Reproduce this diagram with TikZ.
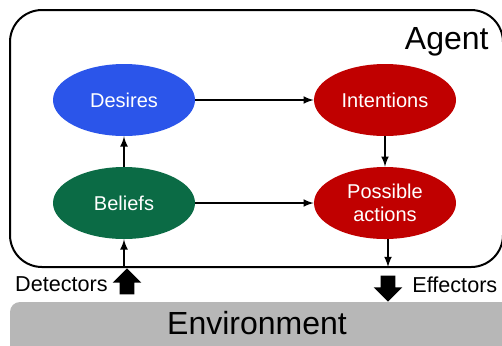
\documentclass[tikz,border=0pt]{standalone}
\usepackage{fontspec}
\setmainfont{Liberation Sans}
\usetikzlibrary{shapes.geometric,shapes.arrows}
\definecolor{desblue}{HTML}{2B55EA}
\definecolor{belgreen}{HTML}{0B6B45}
\definecolor{intred}{HTML}{C00000}
\definecolor{envgray}{HTML}{B7B7B7}
\begin{document}
\begin{tikzpicture}[x=0.5pt,y=-0.5pt,>=latex,
  state/.style={ellipse,minimum width=71pt,minimum height=36pt,inner sep=0pt,text=white,align=center,font=\fontsize{10}{11.5}\selectfont},
  flow/.style={->,line width=0.75pt},
  bigarrow/.style={single arrow,fill=black,minimum width=0pt,minimum height=13pt,single arrow head extend=3.5pt,inner sep=3.5pt},
  lbl/.style={font=\fontsize{10.8}{12}\selectfont,inner sep=0pt}]
  \useasboundingbox (0,0) rectangle (502,345);
  \clip (0,0) rectangle (502,345);
  % environment and agent
  \fill[envgray,rounded corners=5pt] (10,302) rectangle (520,360);
  \node[font=\fontsize{16}{18}\selectfont] (env) at (257,323) {Environment};
  \draw[line width=1pt,rounded corners=16pt] (10,10) rectangle (503,267);
  \node[font=\fontsize{16}{18}\selectfont,anchor=east,inner sep=0pt] (agent) at (489,42) {Agent};
  % states
  \node[state,fill=desblue] (D) at (124,100) {Desires};
  \node[state,fill=intred] (I) at (385,100) {Intentions};
  \node[state,fill=belgreen] (B) at (124,203) {Beliefs};
  \node[state,fill=intred] (P) at (385,203) {Possible\\actions};
  \draw[flow] (D) -- (I);
  \draw[flow] (B) -- (D);
  \draw[flow] (I) -- (P);
  \draw[flow] (B) -- (P);
  % detectors and effectors
  \coordinate (din) at (124,267);
  \coordinate (eout) at (388,267);
  \draw[flow] (din) -- (B);
  \draw[flow] (P.south -| eout) -- (eout);
  \node[bigarrow,shape border rotate=90] (det) at (127,285) {};
  \node[bigarrow,shape border rotate=270] (eff) at (388,285) {};
  \node[lbl,anchor=east] (dlab) at (108,284) {Detectors};
  \node[lbl,anchor=west] (elab) at (412,285) {Effectors};
\end{tikzpicture}
\end{document}
